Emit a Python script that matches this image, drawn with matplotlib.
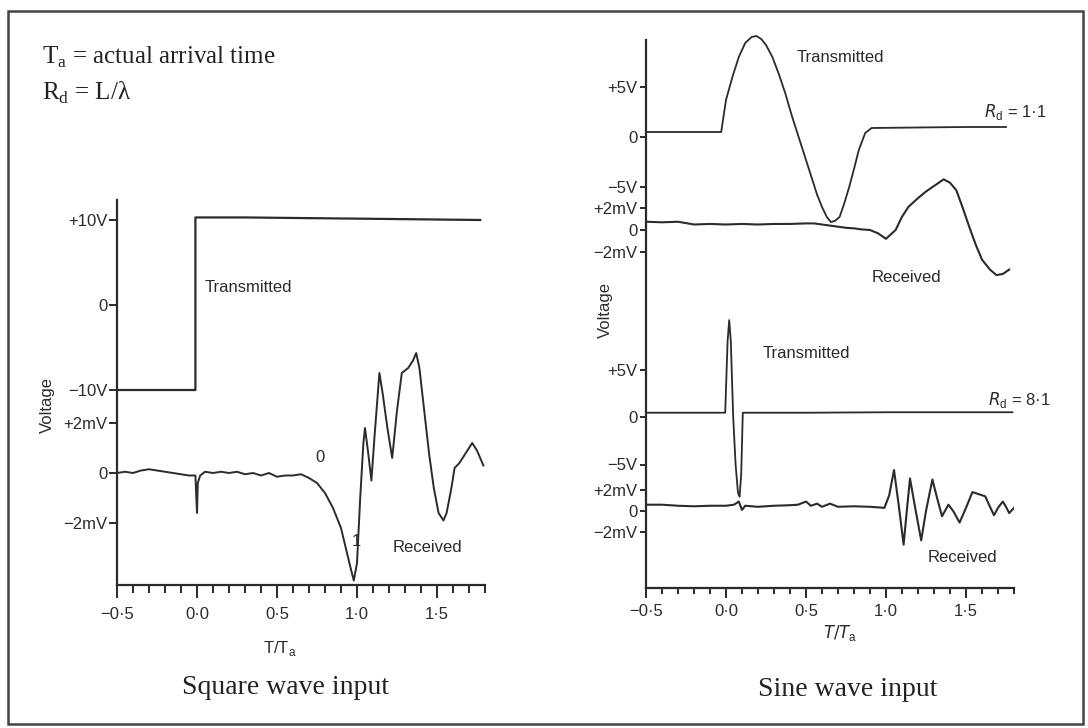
import numpy as np
import matplotlib
matplotlib.use("Agg")
import matplotlib.pyplot as plt
from matplotlib.patches import Rectangle
from matplotlib.ticker import FixedLocator

# ---- data (time in T/Ta, volts / millivolts) ----
sq_tx_t = [-0.5, -0.01, -0.01, 0.3, 0.8, 1.3, 1.77]
sq_tx_v = [-10.0, -10.0, 10.3, 10.3, 10.2, 10.1, 10.0]

sq_rx_t = [-0.5, -0.45, -0.4, -0.35, -0.3, -0.25, -0.2, -0.15, -0.1, -0.05, -0.01,
           0.0, 0.005, 0.02, 0.05, 0.1, 0.15, 0.2, 0.25, 0.3, 0.35, 0.4, 0.45, 0.5,
           0.55, 0.6, 0.65, 0.7, 0.75, 0.8, 0.85, 0.9, 0.93, 0.96, 0.98, 1.0, 1.02,
           1.04, 1.05, 1.07, 1.09, 1.11, 1.14, 1.16, 1.19, 1.22, 1.25, 1.28, 1.32,
           1.35, 1.37, 1.39, 1.42, 1.45, 1.48, 1.51, 1.54, 1.56, 1.59, 1.61, 1.64,
           1.67, 1.70, 1.72, 1.75, 1.79]
sq_rx_mv = [0.0, 0.05, 0.0, 0.1, 0.15, 0.1, 0.05, 0.0, -0.05, -0.1, -0.1,
            -1.6, -0.4, -0.1, 0.05, 0.0, 0.05, 0.0, 0.05, -0.05, 0.0, -0.1, 0.0, -0.15,
            -0.1, -0.1, -0.05, -0.2, -0.4, -0.8, -1.4, -2.2, -3.0, -3.8, -4.3, -3.6, -1.0,
            1.2, 1.8, 0.8, -0.3, 1.5, 4.0, 3.2, 1.8, 0.6, 2.5, 4.0, 4.2,
            4.5, 4.8, 4.2, 2.5, 0.8, -0.6, -1.6, -1.9, -1.6, -0.6, 0.2, 0.4,
            0.7, 1.0, 1.2, 0.9, 0.3]

s1_tx_t = [-0.5, -0.03, 0.0, 0.04, 0.08, 0.12, 0.16, 0.19, 0.22, 0.25, 0.29, 0.33,
           0.37, 0.41, 0.46, 0.50, 0.54, 0.57, 0.60, 0.63, 0.655, 0.68, 0.71, 0.74,
           0.77, 0.80, 0.83, 0.87, 0.91, 1.2, 1.5, 1.75]
s1_tx_v = [0.5, 0.5, 3.7, 6.0, 8.0, 9.4, 10.0, 10.1, 9.8, 9.2, 8.0, 6.3,
           4.4, 2.2, -0.3, -2.3, -4.3, -5.8, -7.0, -8.0, -8.5, -8.4, -8.0, -6.6,
           -5.0, -3.2, -1.3, 0.4, 0.9, 0.95, 1.0, 1.0]

s1_rx_t = [-0.5, -0.4, -0.3, -0.2, -0.1, 0.0, 0.1, 0.2, 0.3, 0.4, 0.5, 0.55, 0.6,
           0.65, 0.7, 0.75, 0.8, 0.85, 0.9, 0.95, 1.0, 1.03, 1.06, 1.1, 1.14, 1.2,
           1.25, 1.3, 1.36, 1.4, 1.44, 1.48, 1.52, 1.56, 1.60, 1.65, 1.69, 1.73, 1.77]
s1_rx_mv = [0.75, 0.7, 0.75, 0.5, 0.55, 0.5, 0.55, 0.5, 0.55, 0.55, 0.6, 0.6, 0.5,
            0.4, 0.3, 0.2, 0.15, 0.05, 0.0, -0.3, -0.8, -0.4, 0.0, 1.2, 2.1, 2.9,
            3.5, 4.0, 4.6, 4.3, 3.6, 2.0, 0.3, -1.3, -2.7, -3.6, -4.1, -4.0, -3.6]

s8_tx_t = [-0.5, -0.005, 0.01, 0.02, 0.03, 0.045, 0.06, 0.075, 0.085, 0.095, 0.105,
           0.5, 1.0, 1.5, 1.79]
s8_tx_v = [0.45, 0.45, 8.0, 10.2, 8.0, 0.0, -5.0, -8.0, -8.4, -6.0, 0.45,
           0.45, 0.5, 0.5, 0.5]

s8_rx_t = [-0.5, -0.4, -0.3, -0.2, -0.1, 0.0, 0.05, 0.08, 0.1, 0.12, 0.2, 0.3, 0.4,
           0.45, 0.5, 0.53, 0.57, 0.6, 0.65, 0.7, 0.8, 0.9, 0.99, 1.02, 1.05, 1.08,
           1.11, 1.13, 1.15, 1.18, 1.22, 1.25, 1.29, 1.32, 1.35, 1.39, 1.42, 1.46,
           1.50, 1.54, 1.58, 1.62, 1.65, 1.675, 1.70, 1.73, 1.75, 1.77, 1.80]
s8_rx_mv = [0.6, 0.6, 0.5, 0.45, 0.5, 0.5, 0.6, 0.9, 0.1, 0.5, 0.4, 0.5, 0.55,
            0.6, 0.9, 0.5, 0.7, 0.4, 0.7, 0.4, 0.45, 0.4, 0.3, 1.5, 3.9, 0.5,
            -3.2, 0.0, 3.1, 0.5, -2.8, 0.0, 3.0, 1.2, -0.5, 0.6, 0.0, -1.1,
            0.3, 1.8, 1.6, 1.4, 0.4, -0.4, 0.3, 0.9, 0.4, -0.2, 0.3]

x_major = [-0.5, 0.0, 0.5, 1.0, 1.5]
x_labels = ["\u22120\u00b75", "0\u00b70", "0\u00b75", "1\u00b70", "1\u00b75"]

# ---- layout ----
W, H = 1088, 728
INK = "#2b2b2b"
SANS = "Liberation Sans"
SERIF = "Liberation Serif"

fig = plt.figure(figsize=(W / 100, H / 100), dpi=100)


def px_axes(x0, y_top, x1, y_bot):
    return fig.add_axes([x0 / W, 1 - y_bot / H, (x1 - x0) / W, (y_bot - y_top) / H])


def scale(offset, per_unit):
    # maps volts / mV onto the stacked trace positions of one panel
    return lambda v: offset + per_unit * np.asarray(v, dtype=float)


def style_axes(ax, height, major_len, minor_len, pad):
    ax.set_xlim(-0.5, 1.8)
    ax.set_ylim(0, height)
    for side in ("top", "right"):
        ax.spines[side].set_visible(False)
    for side in ("left", "bottom"):
        ax.spines[side].set_linewidth(1.6)
        ax.spines[side].set_color(INK)
    ax.set_xticks(x_major)
    ax.set_xticklabels(x_labels, fontfamily=SANS, fontsize=12, color=INK)
    ax.xaxis.set_minor_locator(FixedLocator(np.round(np.arange(-0.5, 1.81, 0.1), 2)))
    ax.tick_params(axis="x", which="major", length=major_len, width=1.4, color=INK, pad=pad)
    ax.tick_params(axis="x", which="minor", length=minor_len, width=1.4, color=INK)
    ax.patch.set_alpha(0)


bg = fig.add_axes([0, 0, 1, 1])
bg.set_xlim(0, W)
bg.set_ylim(H, 0)
bg.axis("off")
bg.add_patch(Rectangle((8, 11), 1075, 713, fill=False, lw=1.8, ec="#444"))

# ---- left panel: square wave ----
axL = px_axes(117, 200, 485, 585)
style_axes(axL, 385, 9.5, 5.5, 6)
lt = scale(280, 8.5)
lr = scale(112, 25)
axL.plot(sq_tx_t, lt(sq_tx_v), color=INK, lw=1.6)
axL.plot(sq_rx_t, lr(sq_rx_mv), color=INK, lw=1.4)
axL.set_yticks([lt(10), lt(0), lt(-10), lr(2), lr(0), lr(-2)])
axL.set_yticklabels(["+10V", "0", "\u221210V", "+2mV", "0", "\u22122mV"],
                    fontfamily=SANS, fontsize=12, color=INK)
axL.tick_params(axis="y", length=6, width=1.4, color=INK, pad=1)
axL.text(0.05, 298, "Transmitted", fontfamily=SANS, fontsize=12, color=INK, va="center")
axL.text(0.74, 127, "0", fontfamily=SANS, fontsize=12, color=INK, va="center")
axL.text(0.97, 43, "1", fontfamily=SANS, fontsize=12, color=INK, va="center")
axL.text(1.22, 37, "Received", fontfamily=SANS, fontsize=12, color=INK, va="center")

# ---- right panel: sine wave, two records stacked ----
axR = px_axes(646, 40, 1014, 588)
style_axes(axR, 548, 7.5, 4, 4)
ut = scale(451, 10)
ur = scale(358, 11)
bt = scale(171, 9.5)
br = scale(77, 10.5)
axR.plot(s1_tx_t, ut(s1_tx_v), color=INK, lw=1.3, clip_on=False)
axR.plot(s1_rx_t, ur(s1_rx_mv), color=INK, lw=1.5)
axR.plot(s8_tx_t, bt(s8_tx_v), color=INK, lw=1.3, clip_on=False)
axR.plot(s8_rx_t, br(s8_rx_mv), color=INK, lw=1.5)
axR.set_yticks([ut(5), ut(0), ut(-5), ur(2), ur(0), ur(-2),
                bt(5), bt(0), bt(-5), br(2), br(0), br(-2)])
axR.set_yticklabels(["+5V", "0", "\u22125V", "+2mV", "0", "\u22122mV"] * 2,
                    fontfamily=SANS, fontsize=12, color=INK)
axR.tick_params(axis="y", length=4, width=1.4, color=INK, pad=2)
axR.text(0.44, 530, "Transmitted", fontfamily=SANS, fontsize=12, color=INK, va="center")
axR.text(1.61, 476, "$R_\\mathregular{d}$ = 1\u00b71", fontfamily=SANS, fontsize=12,
         color=INK, va="center", math_fontfamily="dejavusans")
axR.text(0.91, 311, "Received", fontfamily=SANS, fontsize=12, color=INK, va="center")
axR.text(0.23, 234, "Transmitted", fontfamily=SANS, fontsize=12, color=INK, va="center")
axR.text(1.64, 188, "$R_\\mathregular{d}$ = 8\u00b71", fontfamily=SANS, fontsize=12,
         color=INK, va="center", math_fontfamily="dejavusans")
axR.text(1.26, 30, "Received", fontfamily=SANS, fontsize=12, color=INK, va="center")

# ---- figure-level text ----
bg.text(42, 57, r"T$_\mathregular{a}$ = actual arrival time", fontfamily=SERIF,
        fontsize=18, color="#222", va="center")
bg.text(42, 93, "R$_\\mathregular{d}$ = L/\u03bb", fontfamily=SERIF,
        fontsize=18, color="#222", va="center")
bg.text(47, 405, "Voltage", fontfamily=SANS, fontsize=12, color=INK,
        rotation=90, ha="center", va="center")
bg.text(605, 310, "Voltage", fontfamily=SANS, fontsize=12, color=INK,
        rotation=90, ha="center", va="center")
bg.text(280, 648, r"T/T$_\mathregular{a}$", fontfamily=SANS, fontsize=12, color=INK,
        ha="center", va="center")
bg.text(840, 633, r"$T/T_\mathregular{a}$", fontfamily=SANS, fontsize=12, color=INK,
        ha="center", va="center", math_fontfamily="dejavusans")
bg.text(285, 688, "Square wave input", fontfamily=SERIF, fontsize=20, color="#222",
        ha="center", va="center")
bg.text(848, 690, "Sine wave input", fontfamily=SERIF, fontsize=20, color="#222",
        ha="center", va="center")

fig.savefig("out.png", dpi=100)
